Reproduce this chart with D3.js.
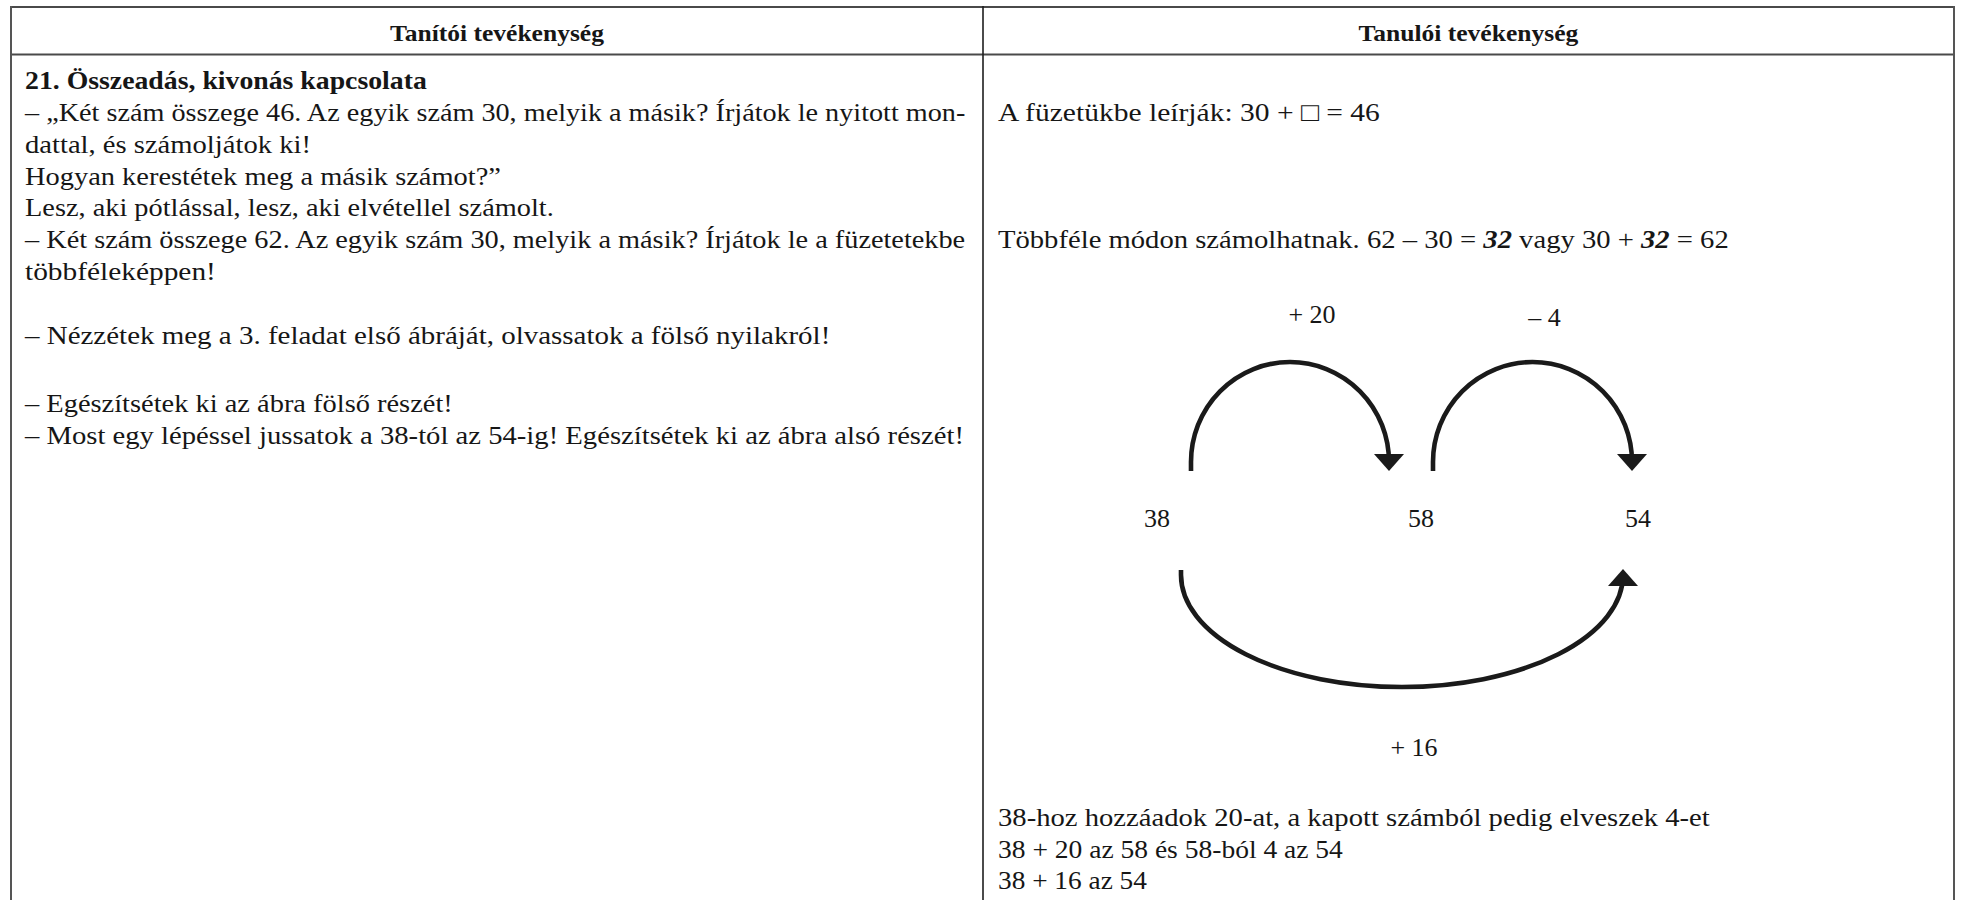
<!DOCTYPE html>
<html><head><meta charset="utf-8">
<script src="https://cdn.jsdelivr.net/npm/d3@7"></script>
<style>
body{margin:0;background:#fff}
svg{display:block}
text{font-family:"Liberation Serif","Times New Roman",serif;fill:#161616}
</style>
</head><body>
<svg id="c" width="1961" height="900"></svg>
<script>
// ---------- content ----------
const headers = ["Tanítói tevékenység", "Tanulói tevékenység"];
const teacherTitle = "21. Összeadás, kivonás kapcsolata";
const teacherLines = [
  "– „Két szám összege 46. Az egyik szám 30, melyik a másik? Írjátok le nyitott mon-",
  "dattal, és számoljátok ki!",
  "Hogyan kerestétek meg a másik számot?”",
  "Lesz, aki pótlással, lesz, aki elvétellel számolt.",
  "– Két szám összege 62. Az egyik szám 30, melyik a másik? Írjátok le a füzetetekbe",
  "többféleképpen!",
  "– Nézzétek meg a 3. feladat első ábráját, olvassatok a fölső nyilakról!",
  "– Egészítsétek ki az ábra fölső részét!",
  "– Most egy lépéssel jussatok a 38-tól az 54-ig! Egészítsétek ki az ábra alsó részét!"
];
const studentLines = [
  [{t: "A füzetükbe leírják: 30 + □ = 46"}],
  [{t: "Többféle módon számolhatnak. 62 – 30 = "}, {t: "32", em: true}, {t: " vagy 30 + "}, {t: "32", em: true}, {t: " = 62"}]
];
const studentSummary = [
  "38-hoz hozzáadok 20-at, a kapott számból pedig elveszek 4-et",
  "38 + 20 az 58 és 58-ból 4 az 54",
  "38 + 16 az 54"
];
const nodes = ["38", "58", "54"];
const jumps = [
  {from: "38", to: "58", label: "+ 20", side: "top"},
  {from: "58", to: "54", label: "– 4", side: "top"},
  {from: "38", to: "54", label: "+ 16", side: "bottom"}
];

// ---------- layout (positions / sizes only) ----------
const T = {left: 11, right: 1954, top: 7, headBottom: 54.5, divider: 983, bottom: 900};
const FS = 26;
const titleBase = 89;
const teacherBase = [121, 153, 184.5, 216, 248, 280, 344, 412, 444];
const teacherWidths = [941, 286, 476, 529, 941, 191, 806, 428, 939];
const titleWidth = 402;
const studentBase = [121, 248];
const studentWidths = [382, 731];
const summaryBase = [826, 857.5, 889];
const summaryWidths = [712, 345, 149];
const headerWidths = [214, 220];
const colX = {teacher: 25, student: 998};

const svg = d3.select("#c");

function fit(sel, x, y, w) {
  const len = sel.node().getComputedTextLength();
  const k = w / len;
  sel.attr("x", 0).attr("y", 0)
     .attr("transform", `translate(${x},${y}) scale(${k},1)`);
}

// ---------- table grid ----------
const grid = svg.append("g").attr("fill", "none");
grid.append("line").attr("x1", T.left).attr("x2", T.right).attr("y1", T.top).attr("y2", T.top)
  .attr("stroke", "#4a4a4a").attr("stroke-width", 2);
grid.append("line").attr("x1", T.left).attr("x2", T.right).attr("y1", T.headBottom).attr("y2", T.headBottom)
  .attr("stroke", "#4a4a4a").attr("stroke-width", 2);
[T.left, T.right].forEach(x => grid.append("line").attr("x1", x).attr("x2", x)
  .attr("y1", T.top - 1).attr("y2", T.bottom).attr("stroke", "#555").attr("stroke-width", 2));
grid.append("line").attr("x1", T.divider).attr("x2", T.divider).attr("y1", T.top - 1).attr("y2", T.bottom)
  .attr("stroke", "#1e1e1e").attr("stroke-width", 1.6);

// ---------- headers ----------
const headerCenters = [(T.left + T.divider) / 2, (T.divider + T.right) / 2];
headers.forEach((h, i) => {
  const t = svg.append("text").attr("font-size", 23).attr("font-weight", "bold").text(h);
  fit(t, headerCenters[i] - headerWidths[i] / 2, 41, headerWidths[i]);
});

// ---------- teacher column ----------
const title = svg.append("text").attr("font-size", FS).attr("font-weight", "bold").text(teacherTitle);
fit(title, colX.teacher, titleBase, titleWidth);
teacherLines.forEach((s, i) => {
  const t = svg.append("text").attr("font-size", FS).text(s);
  fit(t, colX.teacher, teacherBase[i], teacherWidths[i]);
});

// ---------- student column ----------
studentLines.forEach((parts, i) => {
  const t = svg.append("text").attr("font-size", FS);
  parts.forEach(p => {
    const sp = t.append("tspan").text(p.t);
    if (p.em) sp.attr("font-weight", "bold").attr("font-style", "italic");
  });
  fit(t, colX.student, studentBase[i], studentWidths[i]);
});
studentSummary.forEach((s, i) => {
  const t = svg.append("text").attr("font-size", FS).text(s);
  fit(t, colX.student, summaryBase[i], summaryWidths[i]);
});

// ---------- jump diagram ----------
const x = d3.scaleOrdinal().domain(nodes).range([1157, 1421, 1638]);
const nodeBase = 527;
const D = {topTip: 471, topY: 362, botTip: 569, botY: 687, head: 17, halfW: 15, stroke: 4.6};
const jumpOffsets = [[34, -32], [12, -6], [24, -15]];
const labelDx = [22, 12, 12];
const labelBase = {top: [323, 326], bottom: 756};

const dg = svg.append("g");
dg.selectAll("text.node").data(nodes).join("text").attr("class", "node")
  .attr("font-size", FS).attr("text-anchor", "middle")
  .attr("x", d => x(d)).attr("y", nodeBase).text(d => d);

jumps.forEach((j, i) => {
  const x0 = x(j.from) + jumpOffsets[i][0];
  const x1 = x(j.to) + jumpOffsets[i][1];
  const rx = (x1 - x0) / 2;
  let path, head, ly;
  if (j.side === "top") {
    const yc = D.topTip - 9;
    const ry = yc - D.topY;
    const base = D.topTip - D.head;
    path = `M${x0},${D.topTip} L${x0},${yc} A${rx},${ry} 0 0 1 ${x1},${yc} L${x1},${base + 1}`;
    head = `M${x1 - D.halfW},${base} L${x1 + D.halfW},${base} L${x1},${D.topTip} Z`;
    ly = labelBase.top[i];
  } else {
    const yc = D.botTip + 6;
    const ry = D.botY - yc;
    const base = D.botTip + D.head;
    path = `M${x0},${D.botTip + 1} L${x0},${yc} A${rx},${ry} 0 0 0 ${x1},${yc} L${x1},${base - 1}`;
    head = `M${x1 - D.halfW},${base} L${x1 + D.halfW},${base} L${x1},${D.botTip} Z`;
    ly = labelBase.bottom;
  }
  dg.append("path").attr("d", path).attr("fill", "none").attr("stroke", "#1a1a1a").attr("stroke-width", D.stroke);
  dg.append("path").attr("d", head).attr("fill", "#1a1a1a");
  dg.append("text").attr("font-size", FS).attr("text-anchor", "middle")
    .attr("x", (x0 + x1) / 2 + labelDx[i]).attr("y", ly).text(j.label);
});
</script>
</body></html>
